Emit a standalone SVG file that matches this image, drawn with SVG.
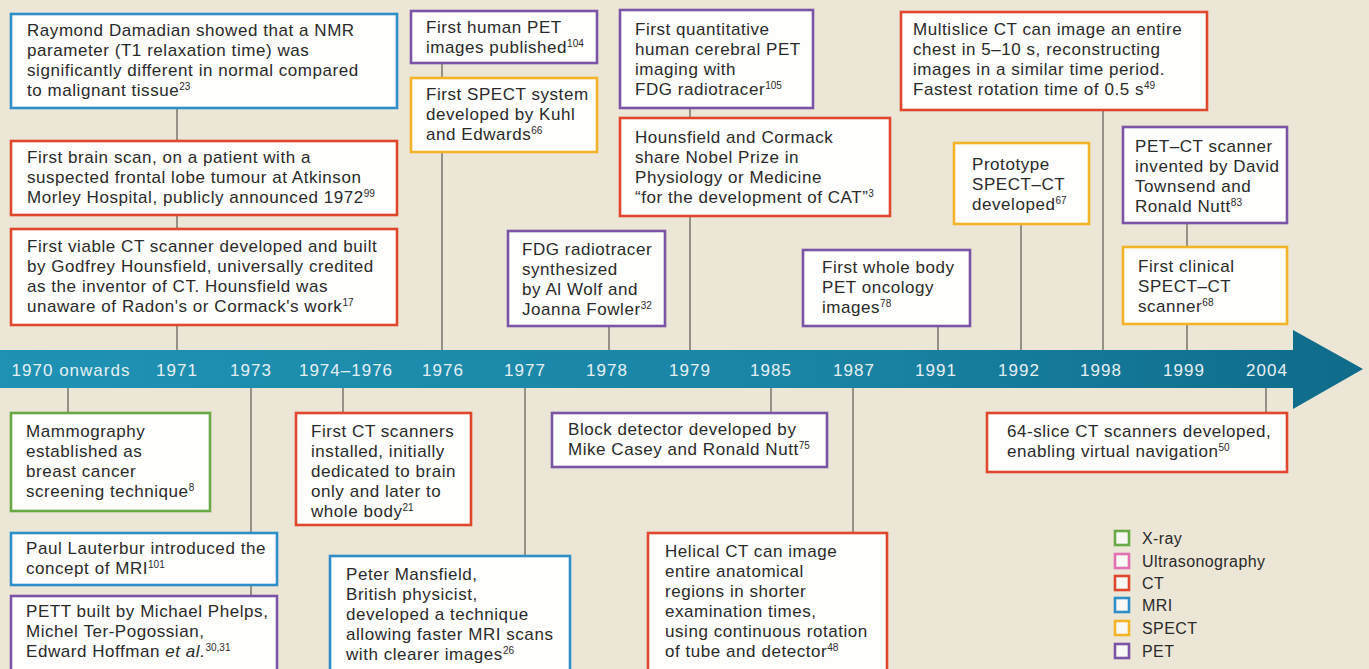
<svg xmlns="http://www.w3.org/2000/svg" width="1369" height="669" viewBox="0 0 1369 669">
<style>
.bg{fill:#ece6d6}
.box{fill:#fefefc;stroke-width:2.6}
.ct{stroke:#e0482e}
.mri{stroke:#2f8ec8}
.pet{stroke:#7a55a6}
.spect{stroke:#f4b42a}
.xray{stroke:#69aa46}
.us{stroke:#e171b2}
.t{font-family:"Liberation Sans",Arial,sans-serif;font-size:17px;letter-spacing:0.55px;fill:#2a2a2a}
.sup{font-size:10px;letter-spacing:0}
.yr{font-family:"Liberation Sans",Arial,sans-serif;font-size:17px;letter-spacing:1px;fill:#e6f0f4;text-anchor:middle}
.lg{font-family:"Liberation Sans",Arial,sans-serif;font-size:16px;letter-spacing:0.4px;fill:#2a2a2a}
.conn line{stroke:#66655c;stroke-width:1.3}
.key{fill:#f8f8f4;stroke-width:2.6}
</style>
<defs>
<linearGradient id="band" x1="0" y1="0" x2="1" y2="0">
<stop offset="0" stop-color="#1f92b3"/>
<stop offset="0.6" stop-color="#1a84a5"/>
<stop offset="1" stop-color="#0f6b8a"/>
</linearGradient>
</defs>
<rect class="bg" x="0" y="0" width="1369" height="669"/>

<g id="connectors" class="conn">
<line x1="177" y1="109" x2="177" y2="350"/>
<line x1="442" y1="63" x2="442" y2="350"/>
<line x1="609" y1="326" x2="609" y2="350"/>
<line x1="690" y1="108" x2="690" y2="350"/>
<line x1="938" y1="326" x2="938" y2="350"/>
<line x1="1103" y1="110" x2="1103" y2="350"/>
<line x1="1021" y1="224" x2="1021" y2="350"/>
<line x1="1187" y1="223" x2="1187" y2="350"/>
<line x1="68" y1="388" x2="68" y2="413"/>
<line x1="251" y1="388" x2="251" y2="596"/>
<line x1="343" y1="388" x2="343" y2="413"/>
<line x1="525" y1="388" x2="525" y2="556"/>
<line x1="771" y1="388" x2="771" y2="413"/>
<line x1="853" y1="388" x2="853" y2="533"/>
<line x1="1266" y1="388" x2="1266" y2="413"/>
</g>

<g id="timeline">
<path d="M0,350 L1293,350 L1293,330 L1363,369 L1293,409 L1293,388 L0,388 Z" fill="url(#band)"/>
<text class="yr" x="71" y="376">1970 onwards</text>
<text class="yr" x="177" y="376">1971</text>
<text class="yr" x="251" y="376">1973</text>
<text class="yr" x="346" y="376">1974–1976</text>
<text class="yr" x="443" y="376">1976</text>
<text class="yr" x="525" y="376">1977</text>
<text class="yr" x="607" y="376">1978</text>
<text class="yr" x="690" y="376">1979</text>
<text class="yr" x="771" y="376">1985</text>
<text class="yr" x="854" y="376">1987</text>
<text class="yr" x="936" y="376">1991</text>
<text class="yr" x="1019" y="376">1992</text>
<text class="yr" x="1101" y="376">1998</text>
<text class="yr" x="1184" y="376">1999</text>
<text class="yr" x="1267" y="376">2004</text>
</g>

<g id="n-damadian">
<rect class="box mri" x="11" y="14" width="386" height="94"/>
<text class="t"><tspan x="27" y="36">Raymond Damadian showed that a NMR</tspan><tspan x="27" y="56">parameter (T1 relaxation time) was</tspan><tspan x="27" y="76">significantly different in normal compared</tspan><tspan x="27" y="96">to malignant tissue</tspan><tspan class="sup" dy="-6">23</tspan></text>
</g>
<g id="n-brainscan">
<rect class="box ct" x="11" y="141" width="386" height="74"/>
<text class="t"><tspan x="27" y="163">First brain scan, on a patient with a</tspan><tspan x="27" y="183">suspected frontal lobe tumour at Atkinson</tspan><tspan x="27" y="203">Morley Hospital, publicly announced 1972</tspan><tspan class="sup" dy="-6">99</tspan></text>
</g>
<g id="n-hounsfield">
<rect class="box ct" x="11" y="229" width="386" height="96"/>
<text class="t"><tspan x="27" y="252">First viable CT scanner developed and built</tspan><tspan x="27" y="272">by Godfrey Hounsfield, universally credited</tspan><tspan x="27" y="292">as the inventor of CT. Hounsfield was</tspan><tspan x="27" y="312">unaware of Radon's or Cormack's work</tspan><tspan class="sup" dy="-6">17</tspan></text>
</g>
<g id="n-humanpet">
<rect class="box pet" x="411" y="11" width="186" height="52"/>
<text class="t"><tspan x="426" y="33">First human PET</tspan><tspan x="426" y="53">images published</tspan><tspan class="sup" dy="-6">104</tspan></text>
</g>
<g id="n-spect">
<rect class="box spect" x="411" y="78" width="186" height="74"/>
<text class="t"><tspan x="426" y="100">First SPECT system</tspan><tspan x="426" y="120">developed by Kuhl</tspan><tspan x="426" y="140">and Edwards</tspan><tspan class="sup" dy="-6">66</tspan></text>
</g>
<g id="n-fdg">
<rect class="box pet" x="508" y="231" width="157" height="95"/>
<text class="t"><tspan x="522" y="255">FDG radiotracer</tspan><tspan x="522" y="275">synthesized</tspan><tspan x="522" y="295">by Al Wolf and</tspan><tspan x="522" y="315">Joanna Fowler</tspan><tspan class="sup" dy="-6">32</tspan></text>
</g>
<g id="n-cerebralpet">
<rect class="box pet" x="620" y="10" width="193" height="98"/>
<text class="t"><tspan x="635" y="35">First quantitative</tspan><tspan x="635" y="55">human cerebral PET</tspan><tspan x="635" y="75">imaging with</tspan><tspan x="635" y="95">FDG radiotracer</tspan><tspan class="sup" dy="-6">105</tspan></text>
</g>
<g id="n-nobel">
<rect class="box ct" x="620" y="118" width="270" height="98"/>
<text class="t"><tspan x="635" y="143">Hounsfield and Cormack</tspan><tspan x="635" y="163">share Nobel Prize in</tspan><tspan x="635" y="183">Physiology or Medicine</tspan><tspan x="635" y="203">“for the development of CAT”</tspan><tspan class="sup" dy="-6">3</tspan></text>
</g>
<g id="n-wholebody">
<rect class="box pet" x="803" y="250" width="167" height="76"/>
<text class="t"><tspan x="822" y="273">First whole body</tspan><tspan x="822" y="293">PET oncology</tspan><tspan x="822" y="313">images</tspan><tspan class="sup" dy="-6">78</tspan></text>
</g>
<g id="n-multislice">
<rect class="box ct" x="901" y="12" width="306" height="98"/>
<text class="t"><tspan x="913" y="35">Multislice CT can image an entire</tspan><tspan x="913" y="55">chest in 5–10 s, reconstructing</tspan><tspan x="913" y="75">images in a similar time period.</tspan><tspan x="913" y="95">Fastest rotation time of 0.5 s</tspan><tspan class="sup" dy="-6">49</tspan></text>
</g>
<g id="n-prototype">
<rect class="box spect" x="954" y="143" width="135" height="81"/>
<text class="t"><tspan x="972" y="170">Prototype</tspan><tspan x="972" y="190">SPECT–CT</tspan><tspan x="972" y="210">developed</tspan><tspan class="sup" dy="-6">67</tspan></text>
</g>
<g id="n-petct">
<rect class="box pet" x="1123" y="127" width="164" height="96"/>
<text class="t"><tspan x="1135" y="152">PET–CT scanner</tspan><tspan x="1135" y="172">invented by David</tspan><tspan x="1135" y="192">Townsend and</tspan><tspan x="1135" y="212">Ronald Nutt</tspan><tspan class="sup" dy="-6">83</tspan></text>
</g>
<g id="n-clinicalspect">
<rect class="box spect" x="1123" y="247" width="164" height="77"/>
<text class="t"><tspan x="1138" y="272">First clinical</tspan><tspan x="1138" y="292">SPECT–CT</tspan><tspan x="1138" y="312">scanner</tspan><tspan class="sup" dy="-6">68</tspan></text>
</g>

<g id="n-mammography">
<rect class="box xray" x="11" y="413" width="199" height="98"/>
<text class="t"><tspan x="26" y="437">Mammography</tspan><tspan x="26" y="457">established as</tspan><tspan x="26" y="477">breast cancer</tspan><tspan x="26" y="497">screening technique</tspan><tspan class="sup" dy="-6">8</tspan></text>
</g>
<g id="n-lauterbur">
<rect class="box mri" x="11" y="533" width="266" height="52"/>
<text class="t"><tspan x="26" y="554">Paul Lauterbur introduced the</tspan><tspan x="26" y="574">concept of MRI</tspan><tspan class="sup" dy="-6">101</tspan></text>
</g>
<g id="n-pett">
<rect class="box pet" x="11" y="596" width="266" height="80"/>
<text class="t"><tspan x="26" y="617">PETT built by Michael Phelps,</tspan><tspan x="26" y="637">Michel Ter-Pogossian,</tspan><tspan x="26" y="657">Edward Hoffman </tspan><tspan font-style="italic">et al.</tspan><tspan class="sup" dy="-6">30,31</tspan></text>
</g>
<g id="n-firstct">
<rect class="box ct" x="296" y="413" width="175" height="112"/>
<text class="t"><tspan x="311" y="437">First CT scanners</tspan><tspan x="311" y="457">installed, initially</tspan><tspan x="311" y="477">dedicated to brain</tspan><tspan x="311" y="497">only and later to</tspan><tspan x="311" y="517">whole body</tspan><tspan class="sup" dy="-6">21</tspan></text>
</g>
<g id="n-mansfield">
<rect class="box mri" x="330" y="556" width="240" height="120"/>
<text class="t"><tspan x="346" y="580">Peter Mansfield,</tspan><tspan x="346" y="600">British physicist,</tspan><tspan x="346" y="620">developed a technique</tspan><tspan x="346" y="640">allowing faster MRI scans</tspan><tspan x="346" y="660">with clearer images</tspan><tspan class="sup" dy="-6">26</tspan></text>
</g>
<g id="n-block">
<rect class="box pet" x="552" y="413" width="275" height="54"/>
<text class="t"><tspan x="568" y="435">Block detector developed by</tspan><tspan x="568" y="455">Mike Casey and Ronald Nutt</tspan><tspan class="sup" dy="-6">75</tspan></text>
</g>
<g id="n-helical">
<rect class="box ct" x="648" y="533" width="239" height="140"/>
<text class="t"><tspan x="665" y="557">Helical CT can image</tspan><tspan x="665" y="577">entire anatomical</tspan><tspan x="665" y="597">regions in shorter</tspan><tspan x="665" y="617">examination times,</tspan><tspan x="665" y="637">using continuous rotation</tspan><tspan x="665" y="657">of tube and detector</tspan><tspan class="sup" dy="-6">48</tspan></text>
</g>
<g id="n-64slice">
<rect class="box ct" x="987" y="413" width="300" height="59"/>
<text class="t"><tspan x="1007" y="437">64-slice CT scanners developed,</tspan><tspan x="1007" y="457">enabling virtual navigation</tspan><tspan class="sup" dy="-6">50</tspan></text>
</g>

<g id="legend">
<rect class="key xray" x="1115" y="531" width="14" height="14"/>
<text class="lg" x="1142" y="544">X-ray</text>
<rect class="key us" x="1115" y="554" width="14" height="14"/>
<text class="lg" x="1142" y="567">Ultrasonography</text>
<rect class="key ct" x="1115" y="576" width="14" height="14"/>
<text class="lg" x="1142" y="589">CT</text>
<rect class="key mri" x="1115" y="598" width="14" height="14"/>
<text class="lg" x="1142" y="611">MRI</text>
<rect class="key spect" x="1115" y="621" width="14" height="14"/>
<text class="lg" x="1142" y="634">SPECT</text>
<rect class="key pet" x="1115" y="644" width="14" height="14"/>
<text class="lg" x="1142" y="657">PET</text>
</g>
</svg>
